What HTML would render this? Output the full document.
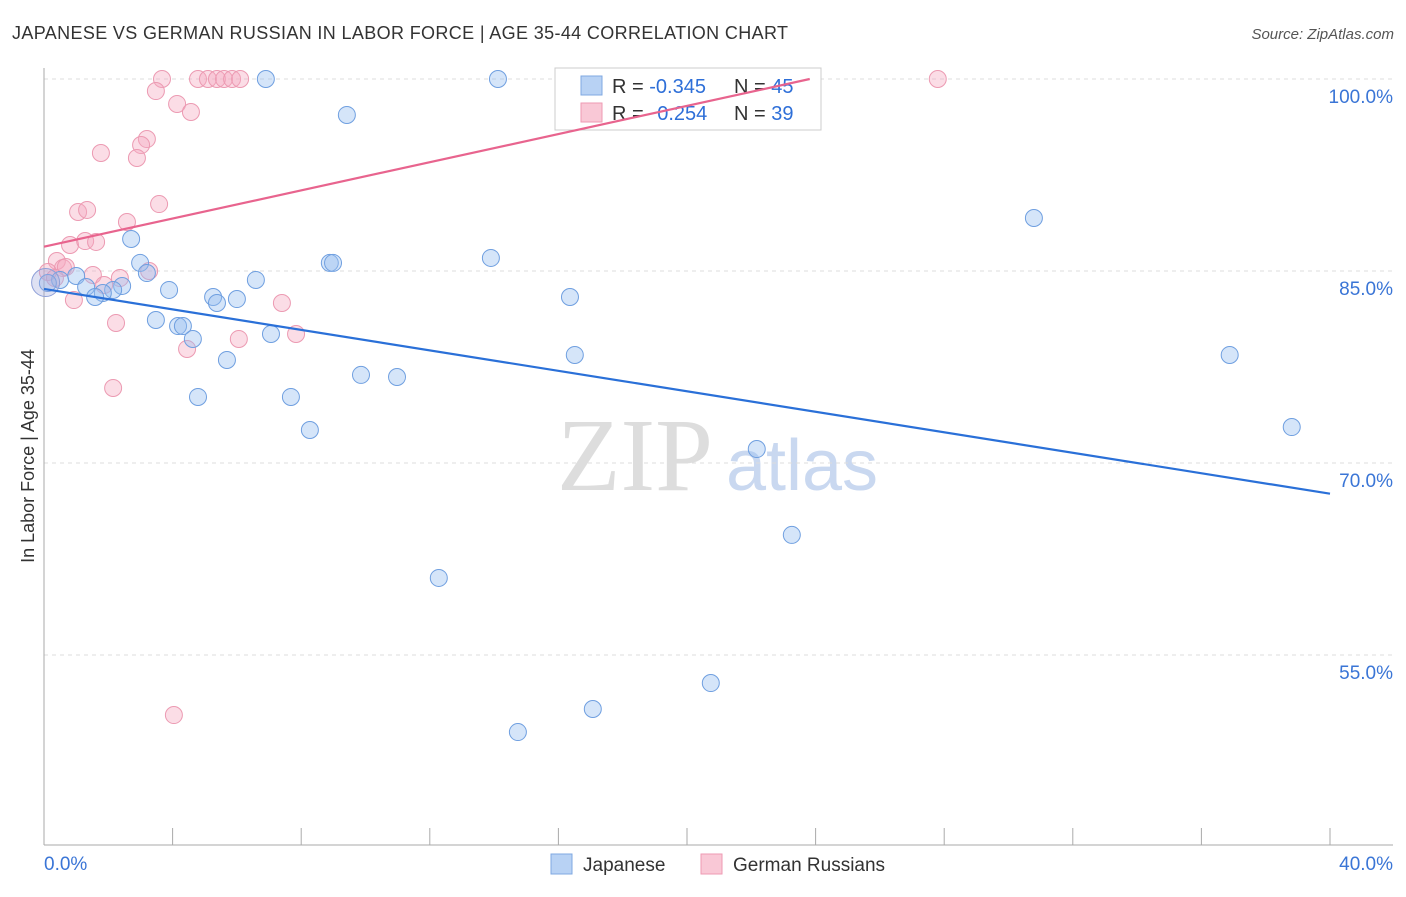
<!DOCTYPE html>
<html><head><meta charset="utf-8"><style>
body{margin:0;background:#fff;font-family:"Liberation Sans",sans-serif;}
svg text{font-family:"Liberation Sans",sans-serif;}
</style></head><body>
<svg width="1406" height="892" viewBox="0 0 1406 892">
<text x="12" y="39" font-size="18" fill="#333" textLength="776">JAPANESE VS GERMAN RUSSIAN IN LABOR FORCE | AGE 35-44 CORRELATION CHART</text>
<text x="1394" y="39" font-size="15" fill="#555" font-style="italic" text-anchor="end">Source: ZipAtlas.com</text>
<g>
<text x="635" y="490" font-size="104" fill="#ddd" text-anchor="middle" style="font-family:'Liberation Serif',serif">ZIP</text>
<text x="802" y="490" font-size="72" fill="#c9d8f0" text-anchor="middle">atlas</text>
</g>
<g id="grid"></g>
<g id="axes"></g>
<g>
<rect x="555" y="68" width="266" height="62" fill="#fff" stroke="#ccc"/>
<rect x="581" y="76" width="21" height="19" fill="#b8d2f4" stroke="#7fa8e2"/>
<rect x="581" y="103" width="21" height="19" fill="#f9c8d6" stroke="#ee9ab3"/>
<text x="612" y="93" font-size="20" fill="#333">R = <tspan fill="#2e6fd8">-0.345</tspan></text>
<text x="734" y="93" font-size="20" fill="#333">N = <tspan fill="#2e6fd8">45</tspan></text>
<text x="612" y="120" font-size="20" fill="#333">R = <tspan fill="#2e6fd8" dx="8">0.254</tspan></text>
<text x="734" y="120" font-size="20" fill="#333">N = <tspan fill="#2e6fd8">39</tspan></text>
</g>
<g id="marks"></g>
<text transform="translate(34,456) rotate(-90)" font-size="18" fill="#333" text-anchor="middle">In Labor Force | Age 35-44</text>
<g>
<rect x="551" y="854" width="21" height="20" fill="#b8d2f4" stroke="#7fa8e2"/>
<text x="583" y="871" font-size="19" fill="#333">Japanese</text>
<rect x="701" y="854" width="21" height="20" fill="#f9c8d6" stroke="#ee9ab3"/>
<text x="733" y="871" font-size="19" fill="#333">German Russians</text>
</g>
<script>
const xTickPcts=[0,40];
const yTickPcts=[100,85,70,55];
const japX=[6.90,14.12,9.42,30.79,2.71,13.90,8.89,8.99,2.99,3.20,6.59,1.00,0.50,0.12,1.31,2.43,2.15,1.83,1.59,3.89,5.26,6.00,5.38,16.36,3.48,4.17,4.32,4.63,7.06,5.69,16.51,36.88,9.86,10.98,4.79,7.68,8.27,38.81,22.17,23.26,12.28,20.74,17.07,14.74];
const japY=[100,100,97.19,89.14,87.5,86.02,85.63,85.63,85.63,84.84,84.30,84.61,84.30,84.06,83.75,83.83,83.52,83.28,82.97,83.52,82.97,82.81,82.5,82.97,81.17,80.70,80.70,79.69,80.08,78.05,78.44,78.44,76.88,76.72,75.16,75.16,72.58,72.81,71.09,64.38,61.02,52.81,50.78,48.98];
const grX=[3.67,4.79,5.10,5.38,5.60,5.85,6.10,27.80,3.48,4.14,4.57,3.20,1.77,3.02,2.89,3.58,1.06,1.34,2.58,0.81,1.28,1.62,0.40,0.59,0.68,0.12,1.52,2.36,1.87,3.27,0.93,2.24,7.40,7.84,6.06,4.45,2.15,4.04,0.34];
const grY=[100,100,100,100,100,100,100,100,99.06,98.05,97.42,95.31,94.22,94.84,93.83,90.23,89.61,89.77,88.83,87.03,87.34,87.27,85.78,85.23,85.31,84.92,84.69,84.45,83.91,85.0,82.73,80.94,82.5,80.08,79.69,78.91,75.86,50.31,84.45];
const japTrend=[83.6,67.6];
const grTrend=[86.9,108.9];
const NS='http://www.w3.org/2000/svg';
const X=v=>44+v/40*1286;
const Y=v=>79+(100-v)*12.8;
function mk(tag,attrs,parent){const e=document.createElementNS(NS,tag);for(const k in attrs)e.setAttribute(k,attrs[k]);parent.appendChild(e);return e;}
const grid=document.getElementById('grid'),axes=document.getElementById('axes'),marks=document.getElementById('marks');
yTickPcts.forEach(v=>{
 const l=mk('line',{x1:44,x2:1393,y1:Y(v),y2:Y(v),stroke:'#ddd','stroke-dasharray':'4,4'},grid);
 
 
 const t=mk('text',{x:1393,y:Y(v)+24,'font-size':19,fill:'#3a75d6','text-anchor':'end'},axes);
 t.textContent=v.toFixed(1)+'%';
 
 
});
mk('line',{x1:44,x2:44,y1:68,y2:845,stroke:'#aaa'},axes);
mk('line',{x1:44,x2:1393,y1:845,y2:845,stroke:'#aaa'},axes);
for(let i=0;i<=10;i++){const tk=mk('line',{x1:X(i*4),x2:X(i*4),y1:828,y2:845,stroke:'#aaa'},axes);}
xTickPcts.forEach((v,i)=>{
 const t=mk('text',{x:i?1393:44,y:870,'font-size':19,fill:'#3a75d6','text-anchor':i?'end':'start'},axes);
 t.textContent=v.toFixed(1)+'%';
 
 
});
function dots(xs,ys,fill,stroke,name){xs.forEach((x,i)=>{const c=mk('circle',{cx:X(x),cy:Y(ys[i]),r:8.5,fill:fill,stroke:stroke,'stroke-width':1},marks);
 
 });}
dots(grX,grY,'rgba(246,170,192,0.4)','#ec9ab2','german-russians-point');
dots(japX,japY,'rgba(150,190,240,0.4)','#6f9fe0','japanese-point');
const big=mk('circle',{cx:X(0.05),cy:Y(84.1),r:14,fill:'rgba(160,170,220,0.35)',stroke:'#8fa0d8'},marks);


const jl=mk('line',{x1:X(0),y1:Y(japTrend[0]),x2:X(40),y2:Y(japTrend[1]),stroke:'#2a70d8','stroke-width':2.2},marks);


const xe=40*(100-grTrend[0])/(grTrend[1]-grTrend[0]);
const gl=mk('line',{x1:X(0),y1:Y(grTrend[0]),x2:X(xe),y2:Y(100),stroke:'#e8648e','stroke-width':2.2},marks);


</script>
</svg>
</body></html>
